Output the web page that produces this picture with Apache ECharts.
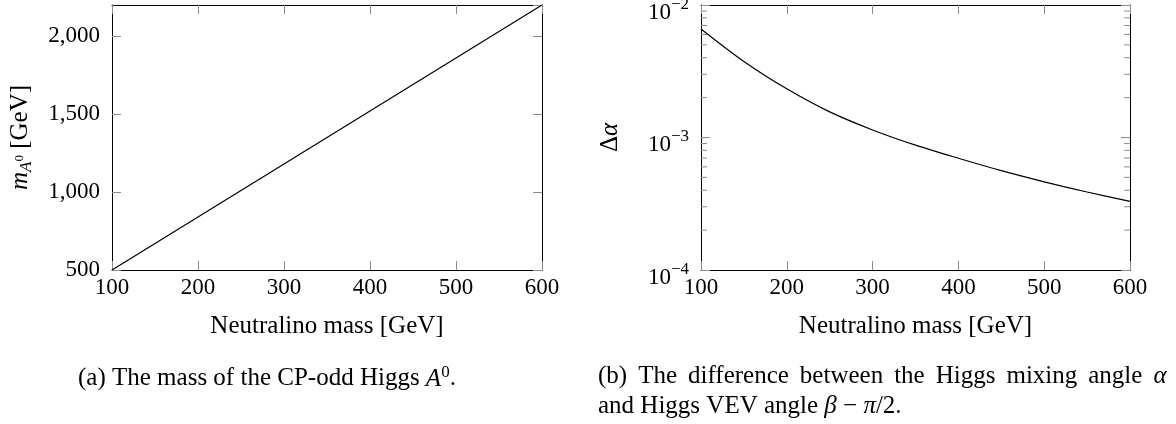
<!DOCTYPE html>
<html>
<head>
<meta charset="utf-8">
<script src="https://cdn.jsdelivr.net/npm/echarts@6/dist/echarts.min.js"></script>
<style>
  html, body { margin: 0; padding: 0; background: #fff; }
  #chart { width: 1176px; height: 424px; }
</style>
</head>
<body>
<div id="chart"></div>
<script>
// (a) mass of the CP-odd Higgs vs neutralino mass
const massX = [100, 200, 300, 400, 500, 600];
const massA0 = [500, 840, 1180, 1520, 1860, 2200];
const massTicks = [500, 1000, 1500, 2000];

// (b) Higgs mixing angle difference vs neutralino mass (log scale)
const alphaX = [100, 150, 200, 250, 300, 350, 400, 450, 500, 550, 600];
const deltaAlpha = [6.6e-3, 3.75e-3, 2.33e-3, 1.56e-3, 1.14e-3, 8.75e-4, 6.97e-4, 5.62e-4, 4.63e-4, 3.88e-4, 3.3e-4];
const logMinor = [2e-4, 3e-4, 4e-4, 5e-4, 6e-4, 7e-4, 8e-4, 9e-4,
                  2e-3, 3e-3, 4e-3, 5e-3, 6e-3, 7e-3, 8e-3, 9e-3];

const SERIF = '"Liberation Serif", "DejaVu Serif", serif';
const NUM = 23;   // tick label size
const TXT = 25;   // axis title / caption size

const chart = echarts.init(document.getElementById('chart'));

const frame = { show: true, onZero: false, lineStyle: { color: '#000', width: 1 } };
const major = { show: true, inside: true, length: 9, lineStyle: { color: '#8c8c8c', width: 1 } };
const noLabel = { show: false };
const numLabel = (margin) => ({ fontFamily: SERIF, fontSize: NUM, color: '#000', margin: margin });

const withComma = (v) => String(v).replace(/\B(?=(\d{3})+(?!\d))/g, ',');
const powTen = (v) => {
  const e = Math.round(Math.log10(v));
  return '{b|10}{e|' + (e < 0 ? '\u2212' + (-e) : e) + '}';
};

const xTitle = {
  name: 'Neutralino mass [GeV]',
  nameLocation: 'middle',
  nameGap: 44,
  nameTextStyle: { fontFamily: SERIF, fontSize: TXT, color: '#000' }
};

function xPair(grid) {
  return [
    Object.assign({
      gridIndex: grid, type: 'value', position: 'bottom', min: 100, max: 600, interval: 100,
      axisLine: frame, axisTick: major, splitLine: { show: false },
      axisLabel: numLabel(6)
    }, xTitle),
    {
      gridIndex: grid, type: 'value', position: 'top', min: 100, max: 600, interval: 100,
      axisLine: frame, axisTick: major, splitLine: { show: false }, axisLabel: noLabel
    }
  ];
}

// caption (b) first line is justified in the reference: wider word gaps
const capB1 = ['(b)', 'The', 'difference', 'between', 'the', 'Higgs', 'mixing', 'angle', '{i|\u03b1}'];

chart.setOption({
  animation: false,
  backgroundColor: '#fff',
  grid: [
    { left: 112, right: 634, top: 5, bottom: 154, outerBoundsMode: 'none' },
    { left: 701, right: 46, top: 5, bottom: 154, outerBoundsMode: 'none' }
  ],
  xAxis: xPair(0).concat(xPair(1)),
  yAxis: [
    {
      gridIndex: 0, type: 'value', position: 'left', min: 500, max: 2200, interval: 500,
      axisLine: frame, axisTick: major, splitLine: { show: false },
      axisLabel: Object.assign(numLabel(12), {
        showMaxLabel: false,
        formatter: (v) => (massTicks.indexOf(v) >= 0 ? withComma(v) : '')
      }),
      name: '{i|m}{s|A}{z|0}{t| [GeV]}',
      nameLocation: 'middle',
      nameRotate: 90,
      nameGap: 77,
      nameTextStyle: {
        fontFamily: SERIF, fontSize: TXT, color: '#000',
        rich: {
          i: { fontFamily: SERIF, fontSize: TXT, fontStyle: 'italic', lineHeight: 30 },
          s: { fontFamily: SERIF, fontSize: 17, fontStyle: 'italic', lineHeight: 17, verticalAlign: 'bottom' },
          z: { fontFamily: SERIF, fontSize: 13, lineHeight: 13, verticalAlign: 'middle' },
          t: { fontFamily: SERIF, fontSize: TXT, lineHeight: 30 }
        }
      }
    },
    {
      gridIndex: 0, type: 'value', position: 'right', min: 500, max: 2200, interval: 500,
      axisLine: frame, axisTick: major, splitLine: { show: false }, axisLabel: noLabel
    },
    {
      gridIndex: 1, type: 'log', logBase: 10, position: 'left', min: 1e-4, max: 1e-2, splitNumber: 2,
      axisLine: frame, axisTick: major, splitLine: { show: false },
      axisLabel: Object.assign(numLabel(12), {
        formatter: powTen,
        padding: [10, 0, 0, 0],
        rich: {
          b: { fontFamily: SERIF, fontSize: NUM, lineHeight: 28, verticalAlign: 'bottom' },
          e: { fontFamily: SERIF, fontSize: 17, lineHeight: 17, verticalAlign: 'top' }
        }
      }),
      name: '{n|\u0394}{i|\u03b1}',
      nameLocation: 'middle',
      nameRotate: 90,
      nameGap: 78,
      nameTextStyle: {
        fontFamily: SERIF, fontSize: TXT, color: '#000',
        rich: {
          n: { fontFamily: SERIF, fontSize: TXT },
          i: { fontFamily: SERIF, fontSize: TXT, fontStyle: 'italic' }
        }
      }
    },
    {
      gridIndex: 1, type: 'log', logBase: 10, position: 'right', min: 1e-4, max: 1e-2, splitNumber: 2,
      axisLine: frame, axisTick: major, splitLine: { show: false }, axisLabel: noLabel
    }
  ],
  series: [
    {
      type: 'line', xAxisIndex: 0, yAxisIndex: 0, silent: true, symbol: 'none',
      lineStyle: { color: '#000', width: 1.2 },
      data: massX.map((x, i) => [x, massA0[i]])
    },
    {
      type: 'line', xAxisIndex: 2, yAxisIndex: 2, silent: true, symbol: 'none', smooth: 0.3,
      lineStyle: { color: '#000', width: 1.2 },
      data: alphaX.map((x, i) => [x, deltaAlpha[i]])
    },
    {
      // minor ticks of the log axis, left and right side
      type: 'custom', xAxisIndex: 2, yAxisIndex: 2, silent: true,
      data: logMinor.map((v) => [100, v]),
      renderItem: function (params, api) {
        const y = api.coord([api.value(0), api.value(1)])[1];
        const cs = params.coordSys;
        const st = { stroke: '#8c8c8c', lineWidth: 1 };
        return {
          type: 'group',
          children: [
            { type: 'line', shape: { x1: cs.x, y1: y, x2: cs.x + 6, y2: y }, style: st },
            { type: 'line', shape: { x1: cs.x + cs.width - 6, y1: y, x2: cs.x + cs.width, y2: y }, style: st }
          ]
        };
      }
    }
  ],
  graphic: [
    {
      type: 'text', left: 78, top: 364,
      style: {
        text: '(a) The mass of the CP-odd Higgs {i|A}{p|0}.',
        fontFamily: SERIF, fontSize: TXT, fill: '#000',
        rich: {
          i: { fontFamily: SERIF, fontSize: TXT, fontStyle: 'italic', lineHeight: 28, verticalAlign: 'bottom' },
          p: { fontFamily: SERIF, fontSize: 17, lineHeight: 17, verticalAlign: 'top' }
        }
      }
    },
    {
      type: 'text', left: 598, top: 364,
      style: {
        text: capB1.join('{sp| }'),
        fontFamily: SERIF, fontSize: TXT, fill: '#000',
        rich: {
          i: { fontFamily: SERIF, fontSize: TXT, fontStyle: 'italic' },
          sp: { fontFamily: SERIF, fontSize: TXT, width: 11 }
        }
      }
    },
    {
      type: 'text', left: 598, top: 394,
      style: {
        text: 'and Higgs VEV angle {i|\u03b2} \u2212 {i|\u03c0}/2.',
        fontFamily: SERIF, fontSize: TXT, fill: '#000',
        rich: { i: { fontFamily: SERIF, fontSize: TXT, fontStyle: 'italic' } }
      }
    }
  ]
});
</script>
</body>
</html>
